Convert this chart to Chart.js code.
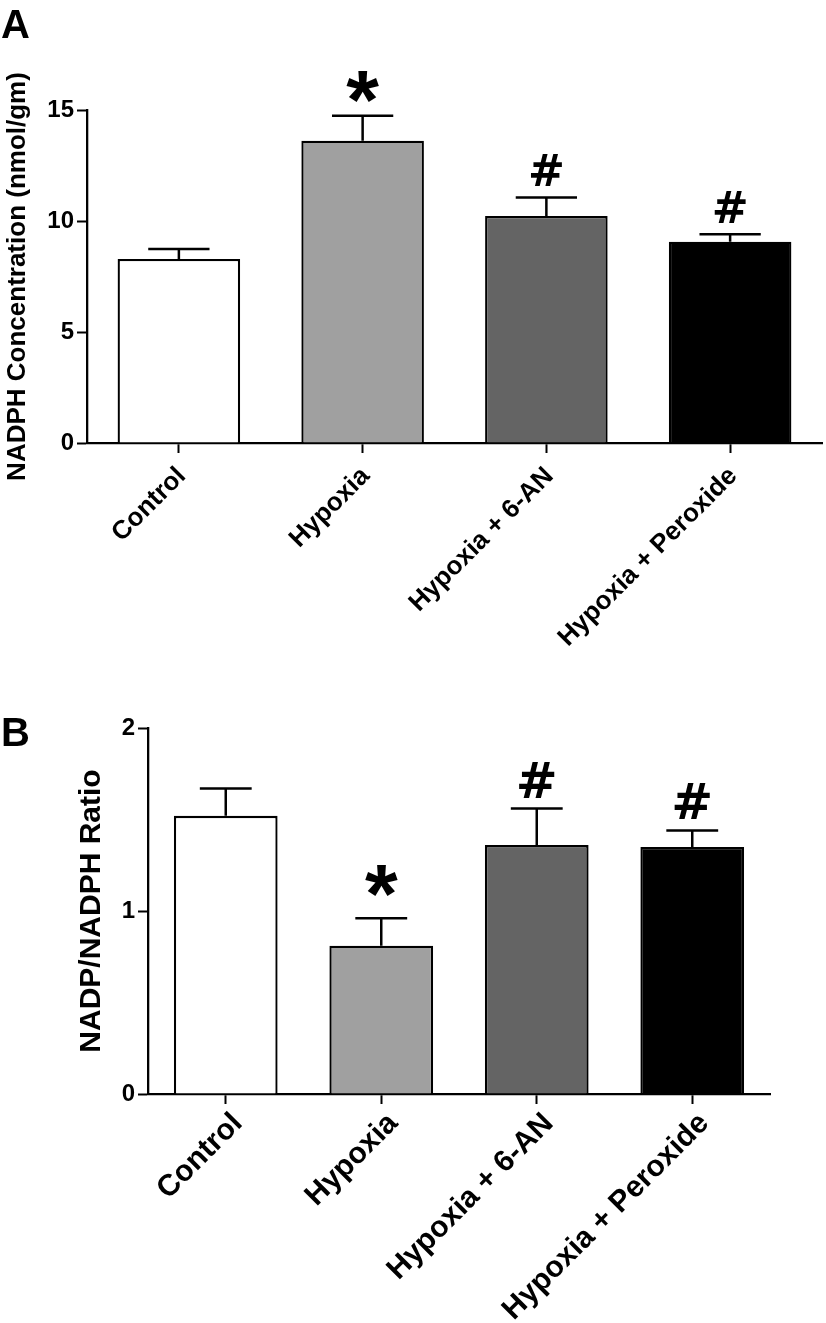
<!DOCTYPE html>
<html>
<head>
<meta charset="utf-8">
<script src="https://cdn.jsdelivr.net/npm/chart.js@4.4.1/dist/chart.umd.min.js"></script>
<style>
  body { margin:0; background:#fff; width:826px; height:1323px; position:relative; overflow:hidden; font-family:"Liberation Sans", Arial, sans-serif; }
  .panel { position:absolute; left:0; }
  .tag { position:absolute; left:1px; font-weight:bold; font-size:40px; line-height:1; color:#000; }
</style>
</head>
<body>
<div class="panel" style="top:0px"><canvas id="chartA" width="826" height="680"></canvas></div>
<div class="panel" style="top:690px"><canvas id="chartB" width="826" height="633"></canvas></div>
<div class="tag" style="top:4px">A</div>
<div class="tag" style="top:712px">B</div>
<script>
const FONT = '"Liberation Sans", Arial, sans-serif';
const MARK_FONT = '"DejaVu Sans", sans-serif';

const groups = ['Control', 'Hypoxia', 'Hypoxia + 6-AN', 'Hypoxia + Peroxide'];
const barColors = ['#ffffff', '#a0a0a0', '#646464', '#000000'];

// panel A - NADPH concentration
const nadphMean = [8.29, 13.62, 10.23, 9.07];
const nadphSem = [0.45, 1.12, 0.83, 0.33];
const nadphMarks = ['', '*', '#', '#'];
const nadphTicks = [0, 5, 10, 15];

// panel B - NADP/NADPH ratio
const ratioMean = [1.52, 0.81, 1.36, 1.35];
const ratioSem = [0.15, 0.15, 0.20, 0.09];
const ratioMarks = ['', '*', '#', '#'];
const ratioTicks = [0, 1, 2];

// error bars (upper only) + significance marks
const errorBars = {
  id: 'errorBars',
  afterDatasetsDraw(chart) {
    const o = chart.options.plugins.errorBars;
    const ctx = chart.ctx;
    const yScale = chart.scales.y;
    const meta = chart.getDatasetMeta(0);
    const means = chart.data.datasets[0].data;
    ctx.save();
    ctx.strokeStyle = '#000';
    ctx.lineWidth = 2.5;
    meta.data.forEach(function(bar, i) {
      const top = yScale.getPixelForValue(means[i] + o.sem[i]);
      const half = bar.width * 0.25;
      ctx.beginPath();
      ctx.moveTo(bar.x, bar.y);
      ctx.lineTo(bar.x, top);
      ctx.moveTo(bar.x - half, top);
      ctx.lineTo(bar.x + half, top);
      ctx.stroke();

      const m = o.marks[i];
      if (!m) return;
      const star = m === '*';
      ctx.font = star ? 'bold ' + o.starSize + 'px ' + FONT : 'bold ' + o.hashSize + 'px ' + MARK_FONT;
      ctx.fillStyle = '#000';
      ctx.textAlign = 'center';
      ctx.textBaseline = 'alphabetic';
      const tm = ctx.measureText(m);
      const gap = star ? o.starGap : o.hashGap;
      ctx.fillText(m, bar.x, top - gap - tm.actualBoundingBoxDescent);
    });
    ctx.restore();
  }
};

function makePanel(id, means, sem, marks, ticks, yTitle, cfg) {
  const ctx = document.getElementById(id);
  return new Chart(ctx, {
    type: 'bar',
    data: {
      labels: groups,
      datasets: [{
        data: means,
        backgroundColor: barColors,
        borderColor: '#000',
        borderWidth: 2.3,
        barPercentage: 0.667,
        categoryPercentage: 1
      }]
    },
    options: {
      responsive: false,
      animation: false,
      layout: { padding: { top: cfg.top, right: cfg.right, left: 0, bottom: 0 } },
      plugins: {
        legend: { display: false },
        tooltip: { enabled: false },
        errorBars: { sem: sem, marks: marks, starSize: 84, hashSize: cfg.hashSize, starGap: cfg.starGap, hashGap: 11 }
      },
      scales: {
        x: {
          offset: true,
          grid: { drawOnChartArea: false, drawTicks: true, tickLength: 10, tickWidth: 2, tickColor: '#000', offset: false },
          border: { display: true, color: '#000', width: 2.3 },
          ticks: { color: '#000', font: { family: FONT, size: cfg.xFont, weight: 'bold' }, minRotation: 45, maxRotation: 45,
                   padding: cfg.xPad, labelOffset: cfg.xShift, autoSkip: false },
          afterFit: function(s) { s.height = cfg.xHeight; }
        },
        y: {
          min: ticks[0],
          max: ticks[ticks.length - 1],
          afterBuildTicks: function(s) { s.ticks = ticks.map(function(v) { return { value: v }; }); },
          grid: { drawOnChartArea: false, drawTicks: true, tickLength: 10, tickWidth: 2, tickColor: '#000' },
          border: { display: true, color: '#000', width: 2.3 },
          ticks: { color: '#000', font: { family: FONT, size: 24, weight: 'bold' }, padding: 3 },
          title: { display: true, text: yTitle, color: '#000', font: { family: FONT, size: cfg.titleSize, weight: 'bold' }, padding: { top: cfg.titlePad, bottom: 0 } },
          afterFit: function(s) { s.width = cfg.yWidth; }
        }
      }
    },
    plugins: [errorBars]
  });
}

makePanel('chartA', nadphMean, nadphSem, nadphMarks, nadphTicks, 'NADPH Concentration (nmol/gm)',
  { top: 110, right: 4, yWidth: 87, xHeight: 237, xFont: 26, xPad: 8, xShift: 3, titleSize: 26, titlePad: 2, hashSize: 44, starGap: 13 });
makePanel('chartB', ratioMean, ratioSem, ratioMarks, ratioTicks, 'NADP/NADPH Ratio',
  { top: 38, right: 56, yWidth: 148, xHeight: 229, xFont: 30, xPad: 2, xShift: 12, titleSize: 30, titlePad: 74, hashSize: 50, starGap: 21 });
</script>
</body>
</html>
